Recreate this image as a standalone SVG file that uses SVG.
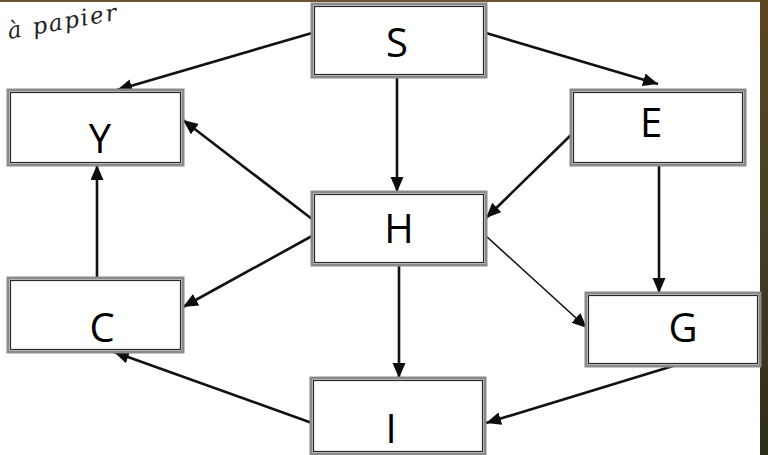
<svg xmlns="http://www.w3.org/2000/svg" width="768" height="455" viewBox="0 0 768 455">
  <defs>
    <marker id="arr" markerUnits="userSpaceOnUse" markerWidth="16" markerHeight="14" refX="15" refY="6.5" orient="auto">
      <path d="M0,0 L15,6.5 L0,13 z" fill="#0d0d0d"/>
    </marker>
    <linearGradient id="edge" x1="0" y1="0" x2="0" y2="1">
      <stop offset="0" stop-color="#5a4520"/>
      <stop offset="0.4" stop-color="#4a4226"/>
      <stop offset="1" stop-color="#2e2c1c"/>
    </linearGradient>
    <style>
      .box-o { fill: #ffffff; stroke: #8a8a8a; stroke-width: 3; }
      .box-i { fill: none; stroke: #2a2a2a; stroke-width: 1.2; }
      .lbl { font-family: "Open Sans", "Noto Sans", "DejaVu Sans", sans-serif; font-size: 40px; fill: #000; text-anchor: middle; }
      .c { fill: none; stroke: #111; stroke-width: 2.6; marker-end: url(#arr); }
      .thin { stroke-width: 1.6; }
    </style>
  </defs>

  <rect x="0" y="0" width="768" height="455" fill="#ffffff"/>
  <rect x="760" y="0" width="8" height="455" fill="url(#edge)"/>
  <rect x="0" y="0" width="760" height="2" fill="#6b5530"/>

  <text x="9" y="39" transform="rotate(-10 9 39)" font-family="'DejaVu Serif', 'Liberation Serif', serif" font-style="italic" font-size="23" letter-spacing="2" fill="#222">à papier</text>

  <g id="connectors">
    <line class="c" x1="312" y1="33" x2="117" y2="90"/>
    <line class="c" x1="486" y1="33" x2="658" y2="84"/>
    <line class="c" x1="397" y1="77" x2="397" y2="192"/>
    <line class="c" x1="572" y1="134" x2="486" y2="218"/>
    <line class="c" x1="659" y1="165" x2="659" y2="293"/>
    <line class="c" x1="312" y1="219" x2="183" y2="120"/>
    <line class="c" x1="312" y1="236" x2="183" y2="307"/>
    <line class="c thin" x1="486" y1="236" x2="587" y2="328"/>
    <line class="c" x1="399" y1="265" x2="399" y2="378"/>
    <line class="c" x1="673" y1="366" x2="486" y2="423"/>
    <line class="c" x1="312" y1="423" x2="114" y2="352"/>
    <line class="c" x1="97" y1="278" x2="97" y2="165"/>
  </g>

  <g id="node-S">
    <rect class="box-o" x="312" y="4" width="174" height="73"/>
    <rect class="box-i" x="314.5" y="6.5" width="169" height="68"/>
    <text class="lbl" x="397" y="57">S</text>
  </g>
  <g id="node-H">
    <rect class="box-o" x="312" y="192" width="174" height="73"/>
    <rect class="box-i" x="314.5" y="194.5" width="169" height="68"/>
    <text class="lbl" x="399" y="243">H</text>
  </g>
  <g id="node-Y">
    <rect class="box-o" x="8" y="90" width="175" height="75"/>
    <rect class="box-i" x="10.5" y="92.5" width="170" height="70"/>
    <text class="lbl" x="100" y="153">Y</text>
  </g>
  <g id="node-E">
    <rect class="box-o" x="571" y="90" width="174" height="75"/>
    <rect class="box-i" x="573.5" y="92.5" width="169" height="70"/>
    <text class="lbl" x="651" y="137">E</text>
  </g>
  <g id="node-G">
    <rect class="box-o" x="586" y="293" width="174" height="73"/>
    <rect class="box-i" x="588.5" y="295.5" width="169" height="68"/>
    <text class="lbl" x="683" y="342">G</text>
  </g>
  <g id="node-C">
    <rect class="box-o" x="8" y="278" width="175" height="74"/>
    <rect class="box-i" x="10.5" y="280.5" width="170" height="69"/>
    <text class="lbl" x="102" y="342">C</text>
  </g>
  <g id="node-I">
    <rect class="box-o" x="311" y="378" width="174" height="76"/>
    <rect class="box-i" x="313.5" y="380.5" width="169" height="71"/>
    <text class="lbl" x="391" y="443">I</text>
  </g>
</svg>
